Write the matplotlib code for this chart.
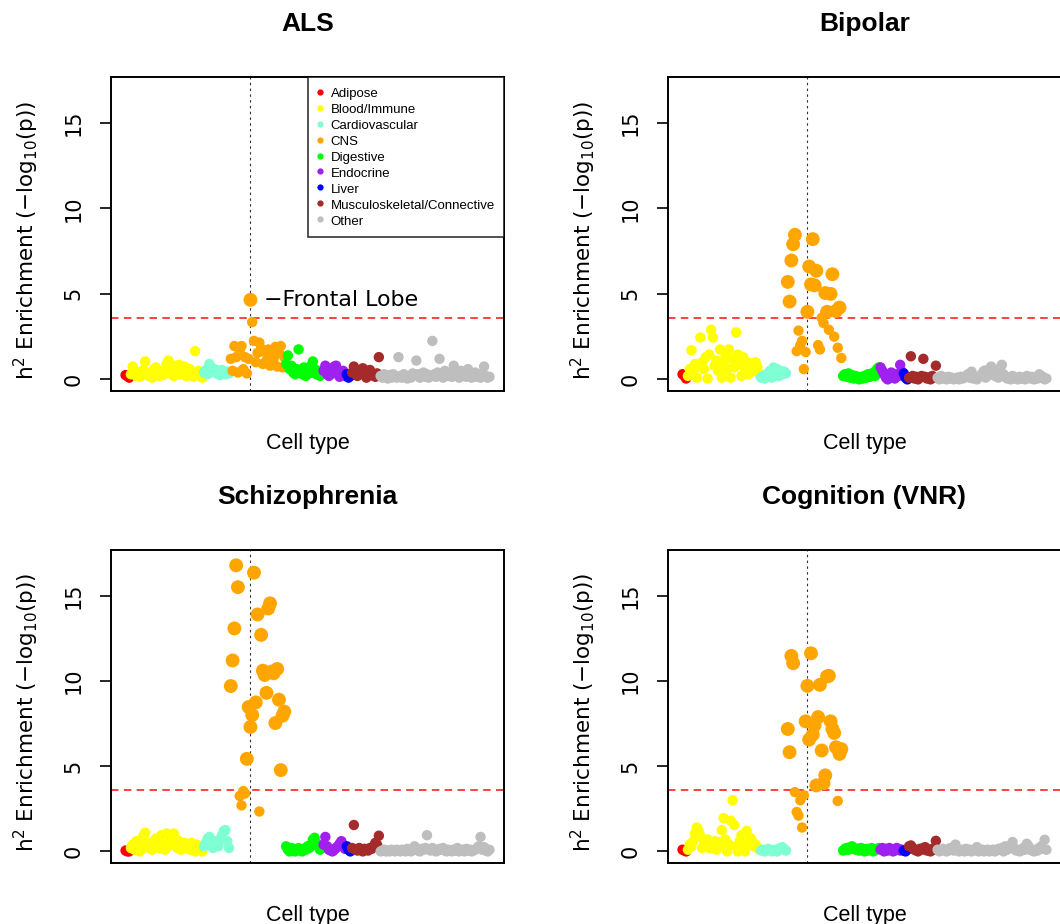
import numpy as np
import matplotlib
matplotlib.use("Agg")
import matplotlib.pyplot as plt
from matplotlib.lines import Line2D

plt.rcParams["mathtext.fontset"] = "dejavusans"

# Tissue / cell-type groups in plotting order and their colours
categories = ["Adipose", "Blood/Immune", "Cardiovascular", "CNS", "Digestive",
              "Endocrine", "Liver", "Musculoskeletal/Connective", "Other"]
colors = ["#FF0000", "#FFFF00", "#7FFFD4", "#FFA500", "#00FF00",
          "#A020F0", "#0000FF", "#A52A2A", "#BEBEBE"]

# Bonferroni significance level, -log10(p)
threshold = 3.61
highlight_label = "Frontal Lobe"
highlight_in_cns = 11          # position of the highlighted cell type inside the CNS group

# ---------------- ALS ----------------
als_adipose = [0.25, 0.2, 0.1]
als_blood = [0.3, 0.75, 0.5, 0.2, 0.4, 0.15, 0.3, 0.55, 1.05, 0.4,
             0.2, 0.35, 0.1, 0.6, 0.7, 0.3, 0.2, 0.45, 0.25, 0.5,
             0.9, 1.1, 0.35, 0.6, 0.2, 0.8, 0.4, 0.85, 0.3, 0.55,
             0.75, 0.2, 0.45, 0.6, 0.3, 0.15, 1.65, 0.4, 0.5, 0.25, 0.1]
als_cardio = [0.4, 0.55, 0.3, 0.9, 0.7, 0.45, 0.6, 0.35, 0.5, 0.25, 0.55, 0.4, 0.3, 0.45, 0.35]
als_cns = [1.2, 0.5, 1.95, 1.3, 0.4, 1.7, 1.95, 0.6, 1.3, 0.35,
           1.2, 4.65, 3.35, 2.25, 1.0, 1.55, 2.15, 1.8, 0.9, 1.6,
           1.1, 1.75, 0.8, 1.45, 1.2, 1.9, 0.75, 1.55, 1.95, 0.7, 1.3]
als_digestive = [0.9, 1.4, 0.6, 0.8, 0.4, 0.3, 0.6, 1.75, 0.5, 0.3,
                 0.7, 0.2, 0.45, 0.35, 0.8, 1.05, 0.6, 0.3, 0.5, 0.2, 0.4]
als_endocrine = [0.5, 0.8, 0.3, 0.2, 0.5, 0.35, 0.75, 0.8, 0.4, 0.15, 0.3, 0.5, 0.2]
als_liver = [0.3, 0.1, 0.2]
als_musculo = [0.4, 0.75, 0.3, 0.2, 0.5, 0.35, 0.65, 0.25, 0.1, 0.45, 0.55, 0.3, 0.2, 0.15, 0.35, 1.3]
als_other = [0.2, 0.1, 0.3, 0.15, 0.05, 0.25, 0.1, 0.3, 0.2, 0.1,
             1.3, 0.2, 0.1, 0.3, 0.15, 0.05, 0.2, 0.1, 0.35, 0.25,
             1.1, 0.3, 0.1, 0.2, 0.4, 0.15, 0.3, 0.1, 0.2, 2.25,
             0.3, 0.15, 0.4, 1.2, 0.25, 0.1, 0.5, 0.3, 0.2, 0.35,
             0.15, 0.8, 0.4, 0.3, 0.1, 0.5, 0.2, 0.35, 0.15, 0.6,
             0.3, 0.1, 0.2, 0.4, 0.15, 0.3, 0.1, 0.25, 0.75, 0.2,
             0.1, 0.15]

# ---------------- Bipolar ----------------
bip_adipose = [0.3, 0.2, 0.05]
bip_blood = [0.2, 0.6, 1.7, 0.4, 0.9, 0.1, 0.75, 2.45, 1.0, 0.6,
             1.3, 0.05, 1.45, 2.9, 2.45, 0.8, 1.1, 0.5, 1.75, 0.1,
             0.9, 1.3, 0.6, 1.75, 0.1, 1.2, 0.7, 2.75, 1.45, 0.9,
             0.2, 1.3, 0.6, 1.0, 0.3, 0.8, 0.95, 0.5, 1.0, 0.7, 0.3]
bip_cardio = [0.1, 0.2, 0.05, 0.3, 0.15, 0.5, 0.1, 0.7, 0.4, 0.6, 0.2, 0.5, 0.3, 0.45, 0.35]
bip_cns = [5.7, 4.55, 6.95, 7.9, 8.45, 1.65, 2.85, 2.0, 2.25, 0.6,
           1.6, 3.95, 6.6, 5.55, 8.2, 5.5, 6.35, 2.0, 1.75, 3.6,
           3.3, 5.05, 3.95, 2.9, 5.0, 6.15, 2.5, 4.0, 1.85, 4.2, 1.25]
bip_digestive = [0.2, 0.3, 0.15, 0.35, 0.1, 0.25, 0.05, 0.2, 0.1, 0.0,
                 0.15, 0.05, 0.2, 0.1, 0.3, 0.15, 0.25, 0.4, 0.2, 0.6, 0.7]
bip_endocrine = [0.7, 0.5, 0.3, 0.1, 0.0, 0.2, 0.4, 0.15, 0.05, 0.3, 0.2, 0.85, 0.45]
bip_liver = [0.35, 0.1, 0.0]
bip_musculo = [0.1, 1.35, 0.2, 0.05, 0.15, 0.0, 0.1, 0.2, 1.2, 0.15, 0.05, 0.1, 0.0, 0.2, 0.1, 0.8]
bip_other = [0.1, 0.0, 0.2, 0.05, 0.1, 0.0, 0.15, 0.05, 0.1, 0.0,
             0.05, 0.1, 0.0, 0.15, 0.05, 0.1, 0.2, 0.3, 0.1, 0.45,
             0.05, 0.1, 0.0, 0.15, 0.2, 0.35, 0.5, 0.1, 0.55, 0.3,
             0.75, 0.6, 0.2, 0.4, 0.1, 0.65, 0.85, 0.3, 0.15, 0.05,
             0.1, 0.0, 0.2, 0.05, 0.1, 0.0, 0.15, 0.05, 0.1, 0.0,
             0.2, 0.1, 0.05, 0.15, 0.0, 0.1, 0.05, 0.3, 0.1, 0.15,
             0.0, 0.05]

# ---------------- Schizophrenia ----------------
scz_adipose = [0.05, 0.0, 0.0]
scz_blood = [0.2, 0.4, 0.1, 0.6, 0.3, 0.0, 0.65, 0.9, 1.1, 0.4,
             0.2, 0.5, 0.1, 0.3, 0.75, 0.6, 0.2, 0.95, 0.4, 0.1,
             1.05, 0.3, 0.6, 0.8, 1.05, 0.4, 0.2, 0.6, 0.1, 0.3,
             0.5, 0.2, 0.4, 0.1, 0.5, 0.3, 0.0, 0.4, 0.2, 0.1, 0.0]
scz_cardio = [0.3, 0.5, 0.75, 0.85, 0.4, 0.2, 0.6, 0.5, 0.3, 0.7, 0.95, 1.2, 1.25, 0.6, 0.2]
scz_cns = [9.7, 11.2, 13.08, 16.78, 15.5, 3.25, 2.7, 3.54, 3.4, 5.43,
           8.47, 7.3, 8.0, 16.35, 8.74, 13.9, 2.34, 12.7, 10.6, 10.35,
           9.3, 14.25, 14.55, 10.55, 10.45, 7.53, 10.7, 8.9, 4.77, 7.96, 8.2]
scz_digestive = [0.3, 0.1, 0.0, 0.2, 0.05, 0.0, 0.1, 0.2, 0.05, 0.0,
                 0.15, 0.1, 0.3, 0.2, 0.4, 0.7, 0.8, 0.5, 0.3, 0.1, 0.2]
scz_endocrine = [0.4, 0.85, 0.3, 0.1, 0.05, 0.0, 0.1, 0.2, 0.3, 0.45, 0.6, 0.35, 0.15]
scz_liver = [0.3, 0.1, 0.0]
scz_musculo = [0.2, 1.55, 0.1, 0.05, 0.2, 0.1, 0.0, 0.15, 0.1, 0.05, 0.2, 0.15, 0.3, 0.5, 0.4, 0.92]
scz_other = [0.0, 0.05, 0.1, 0.0, 0.05, 0.0, 0.1, 0.05, 0.0, 0.1,
             0.05, 0.0, 0.1, 0.05, 0.0, 0.15, 0.05, 0.0, 0.1, 0.3,
             0.1, 0.05, 0.0, 0.15, 0.1, 0.2, 0.95, 0.1, 0.05, 0.2,
             0.1, 0.0, 0.05, 0.15, 0.1, 0.2, 0.05, 0.0, 0.1, 0.05,
             0.0, 0.1, 0.05, 0.2, 0.0, 0.05, 0.1, 0.0, 0.15, 0.05,
             0.1, 0.0, 0.05, 0.1, 0.2, 0.3, 0.85, 0.1, 0.25, 0.05,
             0.0, 0.1]

# ---------------- Cognition (VNR) ----------------
vnr_adipose = [0.1, 0.05, 0.0]
vnr_blood = [0.1, 0.4, 0.3, 0.6, 1.05, 1.4, 1.2, 0.9, 0.2, 0.6,
             0.4, 0.7, 0.2, 0.5, 0.3, 0.6, 0.1, 0.55, 0.35, 1.25,
             1.95, 0.7, 0.0, 0.4, 1.8, 3.0, 1.55, 0.3, 0.0, 0.6,
             0.95, 0.2, 0.0, 1.2, 0.5, 0.8, 0.6, 0.3, 0.4, 0.2, 0.1]
vnr_cardio = [0.05, 0.1, 0.0, 0.05, 0.15, 0.1, 0.0, 0.05, 0.1, 0.0, 0.15, 0.2, 0.25, 0.1, 0.05]
vnr_cns = [7.18, 5.82, 11.47, 11.04, 3.48, 2.31, 2.1, 3.0, 1.4, 3.29,
           7.63, 9.71, 6.56, 11.62, 6.85, 7.4, 3.87, 7.88, 9.77, 5.92,
           4.0, 4.46, 10.26, 10.3, 7.63, 7.18, 6.95, 6.11, 2.96, 5.72, 6.0]
vnr_digestive = [0.05, 0.15, 0.2, 0.1, 0.25, 0.3, 0.2, 0.1, 0.15, 0.05,
                 0.2, 0.1, 0.0, 0.15, 0.05, 0.1, 0.2, 0.0, 0.1, 0.15, 0.2]
vnr_endocrine = [0.1, 0.2, 0.0, 0.15, 0.05, 0.2, 0.1, 0.0, 0.05, 0.2, 0.15, 0.05, 0.1]
vnr_liver = [0.05, 0.0, 0.1]
vnr_musculo = [0.3, 0.35, 0.2, 0.1, 0.05, 0.0, 0.15, 0.1, 0.2, 0.25, 0.05, 0.1, 0.0, 0.15, 0.1, 0.62]
vnr_other = [0.1, 0.0, 0.05, 0.15, 0.1, 0.0, 0.05, 0.2, 0.1, 0.05,
             0.4, 0.1, 0.0, 0.05, 0.1, 0.0, 0.15, 0.05, 0.1, 0.0,
             0.05, 0.1, 0.25, 0.0, 0.05, 0.1, 0.0, 0.05, 0.1, 0.0,
             0.05, 0.1, 0.0, 0.05, 0.15, 0.1, 0.2, 0.0, 0.3, 0.1,
             0.2, 0.35, 0.55, 0.15, 0.05, 0.1, 0.0, 0.05, 0.2, 0.1,
             0.45, 0.3, 0.1, 0.05, 0.0, 0.1, 0.05, 0.2, 0.3, 0.15,
             0.68, 0.1]

panels = [
    ("ALS", [als_adipose, als_blood, als_cardio, als_cns, als_digestive,
             als_endocrine, als_liver, als_musculo, als_other]),
    ("Bipolar", [bip_adipose, bip_blood, bip_cardio, bip_cns, bip_digestive,
                 bip_endocrine, bip_liver, bip_musculo, bip_other]),
    ("Schizophrenia", [scz_adipose, scz_blood, scz_cardio, scz_cns, scz_digestive,
                       scz_endocrine, scz_liver, scz_musculo, scz_other]),
    ("Cognition (VNR)", [vnr_adipose, vnr_blood, vnr_cardio, vnr_cns, vnr_digestive,
                         vnr_endocrine, vnr_liver, vnr_musculo, vnr_other]),
]

W, H = 1060, 924
fig = plt.figure(figsize=(W / 100, H / 100), dpi=100)

# axes boxes in pixels: left, top, right, bottom
boxes = [(111, 77, 504, 391), (668, 77, 1061, 391),
         (111, 550, 504, 863), (668, 550, 1061, 863)]

ylabel = r"h$^2$ Enrichment ($-$log$_{10}$(p))"
sans = "Liberation Sans"

for k, ((title, groups), (l, t, r, b)) in enumerate(zip(panels, boxes)):
    ax = fig.add_axes([l / W, 1 - b / H, (r - l) / W, (b - t) / H])
    values = np.concatenate([np.asarray(g, float) for g in groups])
    group_idx = np.concatenate([np.full(len(g), i) for i, g in enumerate(groups)])
    x = np.arange(1, len(values) + 1)
    point_colors = [colors[i] for i in group_idx]
    sizes = np.where(values > threshold, 100, 56)
    ax.scatter(x, values, c=point_colors, s=sizes, linewidths=0, zorder=3)

    n = len(values)
    ax.set_xlim(1 - 0.04 * (n - 1), n + 0.04 * (n - 1))
    ax.set_ylim(-0.68, 17.68)

    cns_start = sum(len(g) for g in groups[:3])
    x_hl = cns_start + highlight_in_cns + 1
    ax.axvline(x_hl, color="#333333", ls=(0, (2.2, 3)), lw=0.8, zorder=2)
    ax.axhline(threshold, color="#FF2020", ls=(0, (4.5, 3.2)), lw=1.2, zorder=2)

    ax.set_xticks([])
    ax.set_yticks([0, 5, 10, 15])
    ax.tick_params(axis="y", length=8, width=1.2, pad=12, labelsize=15,
                   labelrotation=90)
    for lab in ax.get_yticklabels():
        lab.set_family("DejaVu Sans")
        lab.set_va("center")
    for s in ax.spines.values():
        s.set_linewidth(1.4)

    ax.set_title(title, fontsize=19, fontweight="bold", family=sans, pad=33)
    ax.set_xlabel("Cell type", fontsize=15.5, family=sans)
    ax.xaxis.set_label_coords(0.5, -0.133)
    ax.set_ylabel(ylabel, fontsize=15.5, family="DejaVu Sans")
    ax.yaxis.set_label_coords(-0.177, 0.48)

    if k == 0:
        y_hl = values[x_hl - 1]
        ax.annotate("\u2212" + highlight_label, xy=(x_hl, y_hl), xytext=(9.5, 0),
                    textcoords="offset points", ha="left", va="center",
                    fontsize=15.9, family="DejaVu Sans")
        handles = [Line2D([], [], marker="o", ls="none", color=c, markersize=4.5,
                          markeredgewidth=0) for c in colors]
        leg = ax.legend(handles, categories, loc="upper right", borderaxespad=0,
                        fancybox=False, frameon=True, prop={"family": sans, "size": 9.5},
                        handlelength=0.45, handleheight=1.2, handletextpad=0.55,
                        labelspacing=0.13, borderpad=0.7)
        leg.get_frame().set_edgecolor("black")
        leg.get_frame().set_linewidth(1.2)

fig.savefig("out.png", dpi=100)
